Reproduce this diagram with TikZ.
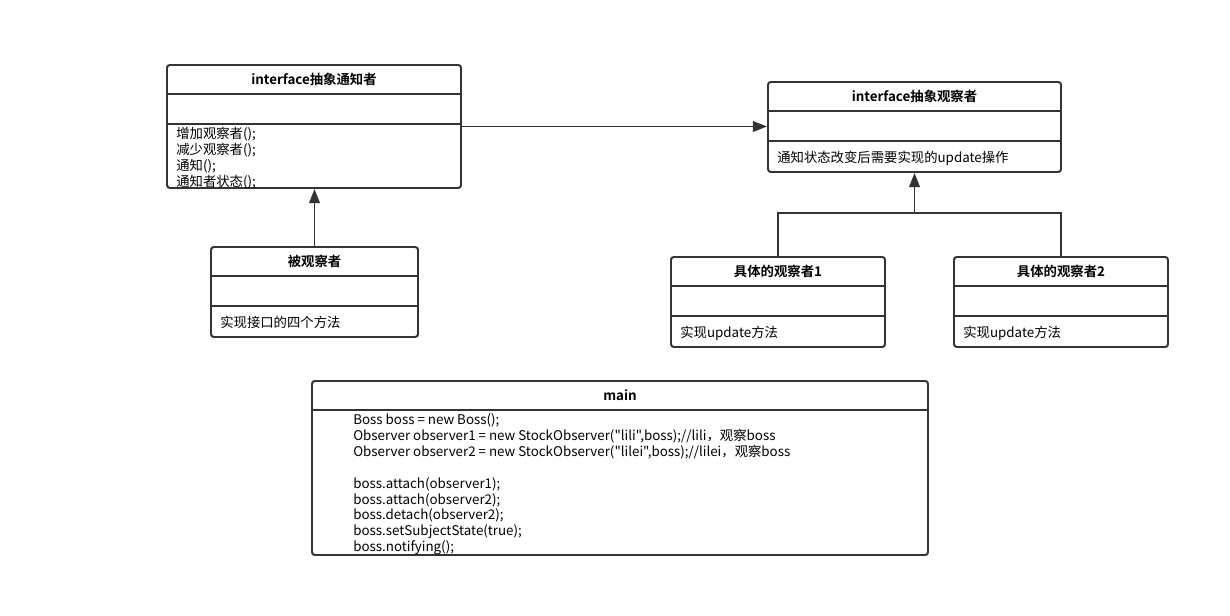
\documentclass[tikz,border=0pt]{standalone}
\usepackage{fontspec}
\newfontfamily\cnfont{Noto Sans CJK SC}[BoldFont={Noto Sans CJK SC Bold}]
\usetikzlibrary{positioning,fit,arrows.meta}
\def\px{0.025cm}
\definecolor{umlline}{HTML}{333333}
\tikzstyle{classbox}=[draw=umlline,rounded corners=2pt,line width=1.4pt,inner sep=0pt]
\tikzstyle{divider}=[draw=umlline,line width=1.4pt]
\tikzstyle{classtitle}=[font=\cnfont\bfseries\fontsize{9.5}{11.35}\selectfont,inner sep=0pt]
\tikzstyle{members}=[font=\cnfont\fontsize{9.5}{11.35}\selectfont,align=left,anchor=north west,inner sep=0pt]
\tikzstyle{realize}=[draw=umlline,line width=1.4pt,-{Triangle[length=10pt,width=7.5pt]}]
\newcommand{\newClass}[5]{% name, corners, title, body offset, body
  \node[classbox,fit={#2}](#1){};
  \node[classtitle](#1-name) at ([yshift=-15*\px]#1.north){#3};
  \draw[divider]([yshift=-30*\px]#1.north west) -- ([yshift=-30*\px]#1.north east);
  \draw[divider]([yshift=-60*\px]#1.north west) -- ([yshift=-60*\px]#1.north east);
  \node[members](#1-ops) at ([xshift=10*\px,yshift=-(60+#4)*\px]#1.north west){#5};
}

\begin{document}
\begin{tikzpicture}[x=\px,y=-\px]
  \useasboundingbox (0,0) rectangle (1230,616);
  \newClass{subject}{(167,65) (461,188)}{interface抽象通知者}{3}
    {增加观察者();\\减少观察者();\\通知();\\通知者状态();}
  \newClass{observer}{(768,82) (1061,172)}{interface抽象观察者}{9.5}
    {通知状态改变后需要实现的update操作}
  \newClass{boss}{(211,247) (418,337)}{被观察者}{9.5}
    {实现接口的四个方法}
  \newClass{stock1}{(671,257) (885,347)}{具体的观察者1}{9.5}
    {实现update方法}
  \newClass{stock2}{(954,257) (1168,347)}{具体的观察者2}{9.5}
    {实现update方法}
  % main
  \node[classbox,fit={(312,381) (928,555)}](main){};
  \node[classtitle](main-name) at ([yshift=-15*\px]main.north){main};
  \draw[divider]([yshift=-30*\px]main.north west) -- ([yshift=-30*\px]main.north east);
  \node[members](main-code) at ([xshift=42*\px,yshift=-33*\px]main.north west)
    {Boss boss = new Boss();\\
     Observer observer1 = new StockObserver("lili",boss);//lili，观察boss\\
     Observer observer2 = new StockObserver("lilei",boss);//lilei，观察boss\\
     \mbox{}\\
     boss.attach(observer1);\\
     boss.attach(observer2);\\
     boss.detach(observer2);\\
     boss.setSubjectState(true);\\
     boss.notifying();};
  % connectors
  \coordinate (bus) at (914.5,213);
  \draw[realize] (subject.east) -- (subject.east -| observer.west);
  \draw[realize] (boss.north) -- (boss.north |- subject.south);
  \draw[divider] (stock1.north) |- (bus) -| (stock2.north);
  \draw[realize] (bus) -- (observer.south);
\end{tikzpicture}
\end{document}
